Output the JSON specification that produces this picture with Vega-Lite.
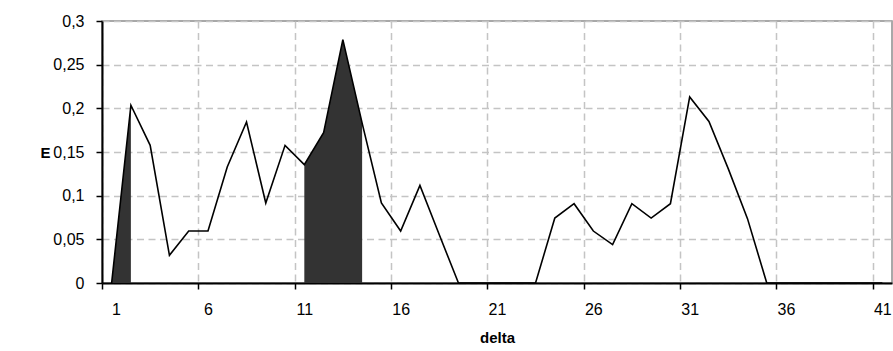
{
  "$schema": "https://vega.github.io/schema/vega-lite/v6.json",
  "width": 790,
  "height": 262,
  "autosize": {"type": "none"},
  "padding": {"left": 102, "top": 21, "right": 1, "bottom": 68},
  "background": "white",
  "config": {
    "view": {"stroke": "#8c8c8c", "strokeWidth": 1.5},
    "font": "Liberation Sans",
    "axis": {
      "labelFont": "Liberation Sans",
      "titleFont": "Liberation Sans",
      "labelColor": "black",
      "titleColor": "black",
      "domainColor": "black",
      "domainWidth": 2,
      "tickColor": "black",
      "tickWidth": 1.5,
      "gridColor": "#c4c4c4",
      "gridDash": [7, 4.5],
      "gridWidth": 1.5
    }
  },
  "data": {
    "values": [
      {"delta": 1, "E": 0, "band": "a"},
      {"delta": 2, "E": 0.2035, "band": "a"},
      {"delta": 3, "E": 0.1576, "band": ""},
      {"delta": 4, "E": 0.0317, "band": ""},
      {"delta": 5, "E": 0.0595, "band": ""},
      {"delta": 6, "E": 0.0595, "band": ""},
      {"delta": 7, "E": 0.1328, "band": ""},
      {"delta": 8, "E": 0.1844, "band": ""},
      {"delta": 9, "E": 0.0916, "band": ""},
      {"delta": 10, "E": 0.1576, "band": ""},
      {"delta": 11, "E": 0.1355, "band": "b"},
      {"delta": 12, "E": 0.172, "band": "b"},
      {"delta": 13, "E": 0.2787, "band": "b"},
      {"delta": 14, "E": 0.183, "band": "b"},
      {"delta": 15, "E": 0.0916, "band": ""},
      {"delta": 16, "E": 0.0595, "band": ""},
      {"delta": 17, "E": 0.1118, "band": ""},
      {"delta": 18, "E": 0.0555, "band": ""},
      {"delta": 19, "E": 0, "band": ""},
      {"delta": 20, "E": 0, "band": ""},
      {"delta": 21, "E": 0, "band": ""},
      {"delta": 22, "E": 0, "band": ""},
      {"delta": 23, "E": 0, "band": ""},
      {"delta": 24, "E": 0.0744, "band": ""},
      {"delta": 25, "E": 0.0908, "band": ""},
      {"delta": 26, "E": 0.0595, "band": ""},
      {"delta": 27, "E": 0.0439, "band": ""},
      {"delta": 28, "E": 0.0908, "band": ""},
      {"delta": 29, "E": 0.0744, "band": ""},
      {"delta": 30, "E": 0.0908, "band": ""},
      {"delta": 31, "E": 0.213, "band": ""},
      {"delta": 32, "E": 0.185, "band": ""},
      {"delta": 33, "E": 0.131, "band": ""},
      {"delta": 34, "E": 0.0737, "band": ""},
      {"delta": 35, "E": 0, "band": ""},
      {"delta": 36, "E": 0, "band": ""},
      {"delta": 37, "E": 0, "band": ""},
      {"delta": 38, "E": 0, "band": ""},
      {"delta": 39, "E": 0, "band": ""},
      {"delta": 40, "E": 0, "band": ""},
      {"delta": 41, "E": 0, "band": ""}
    ]
  },
  "encoding": {
    "x": {
      "field": "delta",
      "type": "quantitative",
      "scale": {"domain": [0.5, 41.5], "nice": false, "zero": false},
      "axis": {
        "title": "delta",
        "titleFontSize": 15,
        "titleFontWeight": "bold",
        "titlePadding": 13,
        "values": [0.5, 5.5, 10.5, 15.5, 20.5, 25.5, 30.5, 35.5, 40.5],
        "labelExpr": "format(datum.value + 0.5, 'd')",
        "labelOffset": 9.6,
        "labelFontSize": 16,
        "labelPadding": 12,
        "tickSize": 6,
        "grid": true
      }
    },
    "y": {
      "field": "E",
      "type": "quantitative",
      "scale": {"domain": [0, 0.3], "nice": false},
      "axis": {
        "title": "E",
        "titleAngle": 0,
        "titleFontSize": 15,
        "titleFontWeight": "bold",
        "titleX": -57,
        "titleY": 131,
        "titleAlign": "center",
        "titleBaseline": "middle",
        "values": [0, 0.05, 0.1, 0.15, 0.2, 0.25, 0.3],
        "labelExpr": "replace(format(datum.value, '.2~f'), '.', ',')",
        "labelFontSize": 16,
        "labelPadding": 12,
        "tickSize": 6,
        "grid": true
      }
    }
  },
  "layer": [
    {
      "transform": [{"filter": "datum.band != ''"}],
      "mark": {"type": "area", "color": "#333333", "opacity": 1},
      "encoding": {
        "detail": {"field": "band"},
        "y": {"field": "E", "type": "quantitative", "stack": null}
      }
    },
    {
      "mark": {"type": "line", "color": "black", "strokeWidth": 1.6},
      "encoding": {}
    }
  ]
}
